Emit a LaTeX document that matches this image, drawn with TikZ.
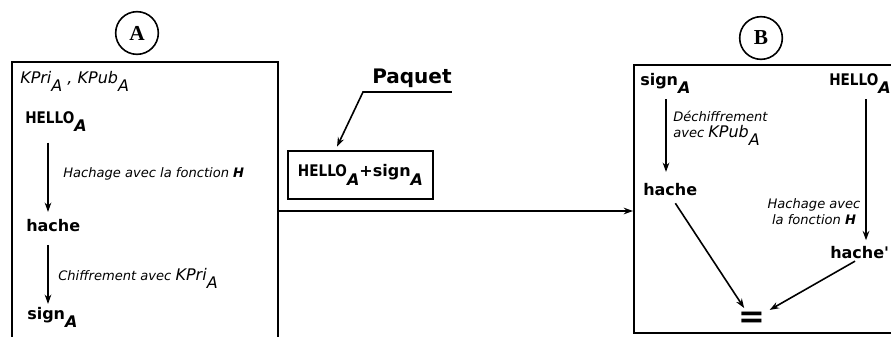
\documentclass[tikz,border=0pt]{standalone}
\usepackage{fontspec}
\setmainfont{DejaVu Sans}
\newfontfamily\circfont{Liberation Serif}
\usetikzlibrary{arrows.meta,fit}

% lowered index letter (the A of HELLO_A, sign_A, ...)
\newcommand{\lowidx}[1]{\raisebox{-0.55em}{\textit{#1}}}
\newcommand{\hellotxt}{\scalebox{0.85}[1]{HELLO}}
\newcommand{\keytxt}[1]{{\fontsize{12}{13}\selectfont #1}}

\tikzset{
  bx/.style={draw,line width=1.5pt,inner sep=0pt},
  lbl/.style={inner sep=0pt,anchor=base west,font=\bfseries\fontsize{12}{14}\selectfont},
  note/.style={inner sep=0pt,anchor=base west,font=\itshape\fontsize{9.8}{12}\selectfont},
  key/.style={inner sep=0pt,anchor=base west,font=\itshape\fontsize{12}{13}\selectfont},
  arr/.style={line width=1.2pt,-{Stealth[length=7pt,width=5pt]}},
  party/.style={draw,circle,line width=1.2pt,minimum size=32pt,inner sep=0pt,font=\circfont\bfseries\fontsize{16}{16}\selectfont}
}

\begin{document}
\begin{tikzpicture}[x=0.75pt,y=-0.75pt]
    \useasboundingbox (0,0) rectangle (891,336);
    \clip (0,0) rectangle (891,336);
    % sender A
    \node[party] (circA) at (137,33) {A};
    \coordinate (a1) at (12,62); \coordinate (a2) at (278,350);
    \node[bx,fit=(a1)(a2)] (boxA) {};
    \node[key] (keysA) at (20,83) {KPri\lowidx{A} , KPub\lowidx{A}};
    \node[lbl] (helloA) at (25,123) {\hellotxt\lowidx{A}};
    \node[note] (hashA) at (63,177) {Hachage avec la fonction \textbf{H}};
    \node[lbl] (hacheA) at (26,231) {hache};
    \node[note] (encA) at (58,280) {Chiffrement avec \keytxt{KPri\lowidx{A}}};
    \node[lbl] (signA) at (27,319) {sign\lowidx{A}};
    \coordinate (colA) at (48,0);
    \draw[arr,shorten <=8pt,shorten >=5pt] (helloA.south -| colA) -- (hacheA.north -| colA);
    \draw[arr,shorten <=10pt,shorten >=2pt] (hacheA.south -| colA) -- (signA.north -| colA);
    % receiver B
    \node[party] (circB) at (761,38) {B};
    \coordinate (b1) at (634,65); \coordinate (b2) at (910,333);
    \node[bx,fit=(b1)(b2)] (boxB) {};
    \node[lbl] (signB) at (640,85) {sign\lowidx{A}};
    \node[lbl] (helloB) at (829,85) {\hellotxt\lowidx{A}};
    \node[note,align=left] (decB) at (673,137) {Déchiffrement\\avec \keytxt{KPub\lowidx{A}}};
    \node[lbl] (hacheB) at (643,195) {hache};
    \node[note,align=center,anchor=center] (hashB) at (814,212) {Hachage avec\\la fonction \textbf{H}};
    \node[lbl] (hache2B) at (830,258) {hache\textquotesingle};
    \node[inner sep=3pt,font=\bfseries\fontsize{24}{24}\selectfont] (eqB) at (752,320) {=};
    \coordinate (colB) at (666,0); \coordinate (colH) at (866,0);
    \draw[arr,shorten <=4pt,shorten >=8pt] (signB.south -| colB) -- (hacheB.north -| colB);
    \draw[arr,shorten <=4pt,shorten >=4pt] (helloB.south -| colH) -- (hache2B.north -| colH);
    \draw[arr,shorten <=7pt] (hacheB.south) -- (eqB);
    \draw[arr,shorten <=4pt] (hache2B.south) -- (eqB);
    % packet on the wire
    \node[lbl,font=\bfseries\fontsize{15}{17}\selectfont] (paquet) at (372,83) {Paquet};
    \node[bx,minimum width=108.75pt,minimum height=36pt,font=\bfseries\fontsize{12}{14}\selectfont] (pkt) at (360.5,175) {\hellotxt\lowidx{A}+sign\lowidx{A}};
    \coordinate (bend) at (363,92);
    \draw[arr] (bend -| paquet.east) -- (bend) -- ([xshift=37.5pt,yshift=2.5pt]pkt.north west);
    \coordinate (wire) at (0,211);
    \draw[arr] (wire -| boxA.east) -- (wire -| boxB.west);
\end{tikzpicture}
\end{document}
